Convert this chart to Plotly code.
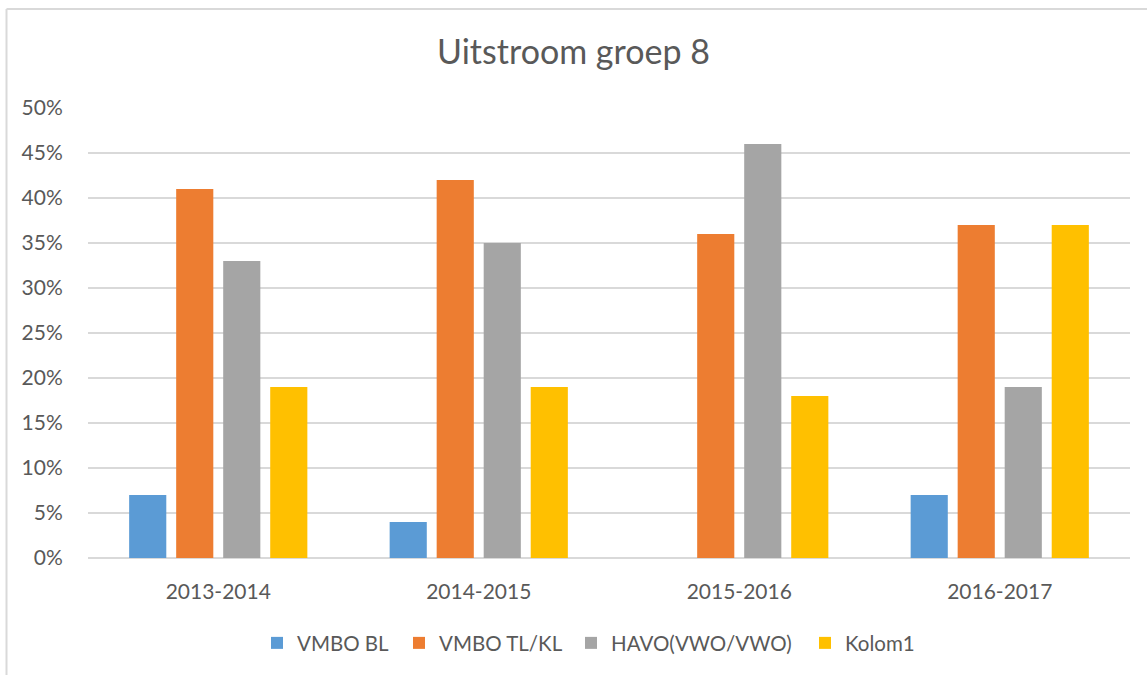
import plotly.graph_objects as go

categories = ["2013-2014", "2014-2015", "2015-2016", "2016-2017"]
vmbo_bl = [7, 4, 0, 7]
vmbo_tlkl = [41, 42, 36, 37]
havo_vwo = [33, 35, 46, 19]
kolom1 = [19, 19, 18, 37]
series_names = ["VMBO BL", "VMBO TL/KL", "HAVO(VWO/VWO)", "Kolom1"]
colors = ["#5B9BD5", "#ED7D31", "#A5A5A5", "#FFC000"]
y_ticks = [0, 5, 10, 15, 20, 25, 30, 35, 40, 45, 50]
y_tick_labels = [f"{v}%" for v in y_ticks]

# legend item left positions (px)
legend_px = [257, 399, 571, 805]
legend_ids = ["legend", "legend2", "legend3", "legend4"]

fig = go.Figure()
for name, vals, col, lid in zip(series_names, [vmbo_bl, vmbo_tlkl, havo_vwo, kolom1], colors, legend_ids):
    fig.add_trace(go.Bar(x=categories, y=vals, name=name, legend=lid,
                         marker=dict(color=col, line=dict(width=0))))

font = "Lato, 'Open Sans', sans-serif"
legend_common = dict(orientation="h", xanchor="left", y=-0.189, yanchor="middle",
                     font=dict(size=20.5, color="#595959"), itemwidth=30, bgcolor="rgba(0,0,0,0)")
legends = {}
for lid, px in zip(legend_ids, legend_px):
    legends[lid] = dict(legend_common, x=(px - 88) / 1042)

fig.update_layout(
    width=1147, height=675,
    margin=dict(l=88, r=17, t=108, b=117, autoexpand=False),
    paper_bgcolor="white", plot_bgcolor="white",
    barmode="group", bargap=0.278, bargroupgap=0.21,
    font=dict(family=font, color="#595959", size=21),
    title=dict(text="Uitstroom groep 8", x=0.5, xanchor="center", y=1-52/675, yanchor="middle",
               yref="container", font=dict(size=34, color="#595959", family=font)),
    showlegend=True,
    xaxis=dict(showgrid=False, showline=False, ticks="outside", ticklen=15, tickcolor="white",
               tickfont=dict(size=21)),
    yaxis=dict(range=[0, 50], tickvals=y_ticks, ticktext=y_tick_labels, showgrid=True, gridcolor="#d9d9d9",
               gridwidth=1.5, zeroline=True, zerolinecolor="#d9d9d9", zerolinewidth=1.5,
               ticks="outside", ticklen=20, tickcolor="white", tickfont=dict(size=21)),
    **legends,
)

# chart area border (left and top visible)
x_left = (6.5 - 88) / 1042
y_top = 1 + (108 - 9) / 450
fig.add_shape(type="line", xref="paper", yref="paper", x0=x_left, x1=x_left, y0=-0.3, y1=y_top,
              line=dict(color="#d9d9d9", width=2))
fig.add_shape(type="line", xref="paper", yref="paper", x0=x_left, x1=1.02, y0=y_top, y1=y_top,
              line=dict(color="#d9d9d9", width=2))

fig.write_html("out.html", config={"displayModeBar": False},
               post_script="document.body.style.margin='0';")
